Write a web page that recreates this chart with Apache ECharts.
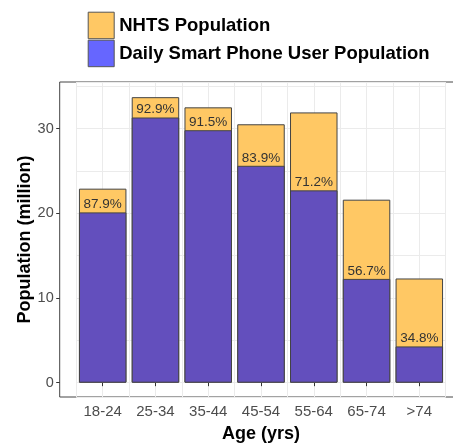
<!DOCTYPE html>
<html><head><meta charset="utf-8">
<script src="https://cdn.jsdelivr.net/npm/echarts/dist/echarts.min.js"></script>
<style>html,body{margin:0;padding:0;background:#fff}#c{width:453px;height:447px}</style>
</head><body><div id="c"></div>
<script>
const categories = ['18-24', '25-34', '35-44', '45-54', '55-64', '65-74', '>74'];
const nhtsPopulation = [22.9, 33.7, 32.5, 30.5, 31.9, 21.6, 12.3];
const phoneUsers = [20.1, 31.3, 29.8, 25.6, 22.7, 12.25, 4.28];
const shareLabels = ['87.9%', '92.9%', '91.5%', '83.9%', '71.2%', '56.7%', '34.8%'];
const yTickMax = 30;
const yTickStep = 10;

const Y_MIN = -1.69, Y_MAX = 35.49;
const FONT = 'Liberation Sans, Arial, Helvetica, sans-serif';
const panel = { left: 59.7, top: 82, right: 462, bottom: 397 };
const bars = { left: 76.3, right: 445.7 };
function yPix(v) { return panel.bottom - (v - Y_MIN) / (Y_MAX - Y_MIN) * (panel.bottom - panel.top); }

const chart = echarts.init(document.getElementById('c'), null, { renderer: 'canvas' });
chart.setOption({
  animation: false,
  backgroundColor: '#fff',
  textStyle: { fontFamily: FONT },
  legend: {
    orient: 'vertical', left: 87.7, top: 11.7, padding: 0,
    itemWidth: 26, itemHeight: 26.5, itemGap: 0.5,
    selectedMode: false,
    textStyle: { fontSize: 18.5, fontWeight: 'bold', color: '#000', fontFamily: FONT },
    data: [
      { name: 'NHTS Population', icon: 'rect', itemStyle: { color: '#FFC864', borderColor: '#555', borderWidth: 1 } },
      { name: 'Daily Smart Phone User Population', icon: 'rect', itemStyle: { color: '#6666FF', borderColor: '#555', borderWidth: 1 } }
    ]
  },
  grid: [
    { left: panel.left, top: panel.top, width: panel.right - panel.left, height: panel.bottom - panel.top,
      show: true, borderColor: '#444', borderWidth: 1, backgroundColor: 'transparent', containLabel: false, outerBoundsMode: 'none' },
    { left: bars.left, top: panel.top, width: bars.right - bars.left, height: panel.bottom - panel.top, containLabel: false, outerBoundsMode: 'none' },
    { left: panel.left, top: yPix(yTickMax), width: 10, height: yPix(0) - yPix(yTickMax), containLabel: false, outerBoundsMode: 'none' }
  ],
  xAxis: [
    { gridIndex: 0, type: 'value', min: 0, max: 1, show: false },
    { gridIndex: 1, type: 'category', data: categories, position: 'bottom',
      axisLine: { show: false },
      axisTick: { show: true, alignWithLabel: true, length: 3.5, lineStyle: { color: '#333' } },
      axisLabel: { color: '#4d4d4d', fontSize: 15, margin: 7, fontFamily: FONT },
      splitLine: { show: false },
      name: 'Age (yrs)', nameLocation: 'middle', nameGap: 28.5,
      nameTextStyle: { fontWeight: 'bold', fontSize: 18, color: '#000', fontFamily: FONT } },
    { gridIndex: 1, type: 'value', min: 0, max: 14, interval: 1,
      axisLine: { show: false }, axisTick: { show: false }, axisLabel: { show: false },
      splitLine: { show: true, lineStyle: { color: '#ebebeb', width: 1 } } },
    { gridIndex: 2, type: 'value', min: 0, max: 1, show: false }
  ],
  yAxis: [
    { gridIndex: 0, type: 'value', min: 0, max: 1, show: true,
      axisLine: { show: false }, axisTick: { show: false }, axisLabel: { show: false }, splitLine: { show: false },
      name: 'Population (million)', nameLocation: 'middle', nameGap: 26,
      nameTextStyle: { fontWeight: 'bold', fontSize: 18, color: '#000', fontFamily: FONT } },
    { gridIndex: 1, type: 'value', min: Y_MIN, max: Y_MAX, splitNumber: 7,
      axisLine: { show: false }, axisTick: { show: false }, axisLabel: { show: false },
      splitLine: { show: true, lineStyle: { color: '#ebebeb', width: 1 } } },
    { gridIndex: 2, type: 'value', min: 0, max: yTickMax, interval: yTickStep,
      axisLine: { show: false },
      axisTick: { show: true, length: 3.5, lineStyle: { color: '#333' } },
      axisLabel: { color: '#4d4d4d', fontSize: 14.5, margin: 6, fontFamily: FONT },
      splitLine: { show: false } }
  ],
  series: [
    { type: 'bar', name: 'NHTS Population', xAxisIndex: 1, yAxisIndex: 1, data: nhtsPopulation,
      barWidth: '90%', barGap: '-100%',
      itemStyle: { color: '#FFC864', borderColor: '#444', borderWidth: 1 } },
    { type: 'bar', name: 'Daily Smart Phone User Population', xAxisIndex: 1, yAxisIndex: 1, data: phoneUsers,
      barWidth: '90%', barGap: '-100%',
      itemStyle: { color: '#634FBD', borderColor: '#444', borderWidth: 1 },
      label: { show: true, position: 'top', distance: 1, color: '#333', fontSize: 13.5, fontFamily: FONT,
        formatter: p => shareLabels[p.dataIndex] } }
  ]
});
</script></body></html>
